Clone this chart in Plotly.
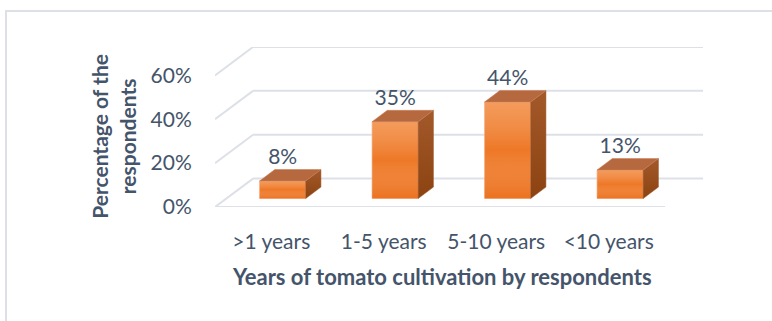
import plotly.graph_objects as go

# ---- data ----
categories = [">1 years", "1-5 years", "5-10 years", "<10 years"]
values = [8, 35, 44, 13]
labels = ["8%", "35%", "44%", "13%"]
y_ticks = [0, 20, 40, 60]
y_ticktext = ["0%", "20%", "40%", "60%"]

# ---- pseudo-3D projection parameters (styling) ----
DX = 0.338   # depth offset in x units (front -> back)
DY = 12.95   # depth offset in y units (front -> back)
F1, F2 = 0.30, 0.70   # bar front / back depth fractions
BW = 0.41    # bar width

TEXT = "#44546A"
GRID = "#DDE1E7"
FONT = "Lato"

xs = list(range(len(categories)))
fig = go.Figure()

base = F1 * DY
xc = [i + F1 * DX for i in xs]
ddx = (F2 - F1) * DX
ddy = (F2 - F1) * DY

# front faces
fig.add_trace(go.Bar(x=xc, y=values, base=base, width=BW,
                     marker=dict(color="#EE7826", line=dict(color="#F6A273", width=0.6)),
                     showlegend=False, hoverinfo="skip"))

# gradient sheen on front faces and shading on sides
for c, v in zip(xc, values):
    x0, x1 = c - BW / 2, c + BW / 2
    h = base + v
    fig.add_trace(go.Scatter(
        x=[x0, x1, x1, x0, x0], y=[base, base, h, h, base], mode="lines", fill="toself",
        line=dict(width=0),
        fillgradient=dict(type="vertical",
                          colorscale=[[0, "rgba(230,100,15,0.35)"], [0.5, "rgba(255,255,255,0)"],
                                      [1, "rgba(255,220,190,0.35)"]]),
        hoverinfo="skip", showlegend=False))
    fig.add_trace(go.Scatter(
        x=[x1, x1, x1 + ddx, x1 + ddx, x1], y=[base, h, h + ddy, base + ddy, base],
        mode="lines", fill="toself", line=dict(width=0.5, color="#9A4E1C"),
        fillgradient=dict(type="vertical", colorscale=[[0, "#8C4311"], [1, "#A3592A"]]),
        hoverinfo="skip", showlegend=False))

# top faces
tx, ty = [], []
for c, v in zip(xc, values):
    x0, x1 = c - BW / 2, c + BW / 2
    h = base + v
    tx += [x0, x1, x1 + ddx, x0 + ddx, x0, None]
    ty += [h, h, h + ddy, h + ddy, h, None]
fig.add_trace(go.Scatter(x=tx, y=ty, mode="lines", fill="toself", fillcolor="#B6683E",
                         line=dict(width=0.6, color="#C98058"), hoverinfo="skip", showlegend=False))

# data labels
fig.add_trace(go.Scatter(x=xc, y=[base + v + ddy for v in values], mode="text", text=labels,
                         textposition="top center", textfont=dict(family=FONT, size=21, color=TEXT),
                         hoverinfo="skip", showlegend=False))

# gridlines (back wall lines + left diagonals + floor front edge), drawn below the bars
grid_shapes = []
for t in y_ticks:
    grid_shapes.append(dict(type="line", xref="x", yref="y", x0=-0.5, y0=t, x1=-0.5 + DX, y1=t + DY,
                            line=dict(color=GRID, width=2), layer="below"))
    grid_shapes.append(dict(type="line", xref="x", yref="y", x0=-0.5 + DX, y0=t + DY, x1=3.5 + DX, y1=t + DY,
                            line=dict(color=GRID, width=2), layer="below"))
grid_shapes.append(dict(type="line", xref="x", yref="y", x0=-0.5, y0=0, x1=3.5, y1=0,
                        line=dict(color=GRID, width=2), layer="below"))

L, R = 215, 703
T, B = 47, 207.5
W, H = 772, 321
border = dict(type="rect", xref="paper", yref="paper",
              x0=(6 - L) / (R - L), x1=(780 - L) / (R - L),
              y0=(B - 330) / (B - T), y1=(B - 11) / (B - T),
              line=dict(color="#DDE1E7", width=2), layer="below")

fig.update_layout(
    width=W, height=H,
    margin=dict(l=L, r=W - R, t=T, b=H - B, pad=0),
    paper_bgcolor="white", plot_bgcolor="white",
    xaxis=dict(range=[-0.5, 3.5 + DX], tickvals=xs, ticktext=categories,
               showgrid=False, zeroline=False, showline=False,
               ticks="outside", ticklen=16, tickcolor="rgba(0,0,0,0)",
               tickfont=dict(family=FONT, size=21, color=TEXT), fixedrange=True),
    yaxis=dict(range=[0, 60 + DY], tickvals=y_ticks, ticktext=y_ticktext,
               showgrid=False, zeroline=False, showline=False,
               ticks="outside", ticklen=18, tickcolor="rgba(0,0,0,0)",
               tickfont=dict(family=FONT, size=21, color=TEXT), fixedrange=True),
    annotations=[
        dict(text="<b>Years of tomato cultivation by respondents</b>", xref="paper", yref="paper",
             x=(442 - L) / (R - L), y=(B - 277) / (B - T), xanchor="center", yanchor="middle",
             showarrow=False, font=dict(family=FONT, size=22, color=TEXT)),
        dict(text="<b>Percentage of the<br>respondents</b>", xref="paper", yref="paper",
             x=(113 - L) / (R - L), y=(B - 137) / (B - T), xanchor="center", yanchor="middle",
             textangle=-90, showarrow=False, font=dict(family=FONT, size=21, color=TEXT)),
    ],
    shapes=grid_shapes + [border],
)
fig.write_html("out.html")
